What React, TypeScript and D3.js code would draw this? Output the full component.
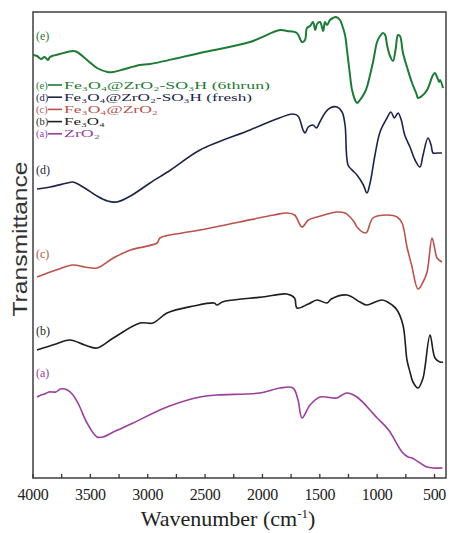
import React from "react";
import * as d3 from "d3";

// FT-IR spectra: wavenumber (cm-1) vs. transmittance (arbitrary, vertically offset units)
const spectrumE: [number, number][] = [
  [4000, 423], [3965, 422], [3930, 419], [3900, 421], [3870, 418], [3852, 421], [3765, 424], [3651, 427],
  [3616, 426], [3529, 418], [3442, 410], [3350, 406], [3303, 406], [3200, 409], [3068, 413],
  [2980, 414], [2544, 425], [2108, 436], [1847, 448], [1786, 447], [1700, 445], [1655, 436],
  [1629, 438], [1612, 450], [1585, 452], [1559, 456], [1540, 448], [1524, 454], [1498, 456],
  [1470, 447], [1455, 456], [1437, 453], [1411, 458], [1385, 460], [1359, 461], [1324, 458],
  [1306, 453], [1280, 443], [1263, 428], [1237, 403], [1219, 388], [1193, 378], [1176, 375],
  [1150, 378], [1106, 386], [1089, 391], [1036, 416], [1001, 436], [975, 442], [949, 445],
  [930, 443], [914, 433], [888, 422], [862, 417], [840, 428], [818, 443], [801, 442],
  [775, 425], [740, 411], [696, 395], [660, 385], [644, 380], [610, 382], [565, 388],
  [513, 403], [496, 405], [478, 401], [460, 396], [452, 398], [426, 390],
];

const spectrumD: [number, number][] = [
  [3965, 289], [3850, 291], [3700, 295], [3651, 296], [3550, 290], [3442, 282], [3350, 277],
  [3268, 276], [3150, 282], [2980, 295], [2800, 308], [2544, 328], [2108, 348], [1900, 358],
  [1734, 364], [1690, 362], [1646, 348], [1629, 345], [1600, 351], [1559, 353], [1530, 350],
  [1500, 356], [1455, 365], [1411, 370], [1350, 371], [1306, 366], [1280, 353], [1254, 313],
  [1219, 308], [1176, 303], [1120, 293], [1089, 285], [1060, 296], [1019, 323], [975, 346],
  [914, 360], [880, 366], [850, 360], [818, 365], [790, 358], [760, 343], [714, 331],
  [670, 318], [627, 311], [600, 323], [557, 340], [530, 333], [513, 325], [478, 325], [435, 325],
];

const spectrumC: [number, number][] = [
  [3965, 201], [3800, 208], [3651, 213], [3550, 211], [3442, 210], [3300, 220], [3150, 228],
  [2919, 235], [2893, 240], [2700, 245], [2544, 248], [2200, 256], [1900, 263], [1786, 265],
  [1720, 263], [1655, 251], [1600, 258], [1524, 261], [1350, 266], [1280, 265], [1237, 261],
  [1200, 256], [1176, 251], [1106, 245], [1089, 246], [1036, 260], [914, 263], [827, 261],
  [783, 255], [740, 231], [700, 213], [644, 189], [600, 196], [565, 206], [522, 240],
  [496, 228], [478, 220], [435, 216],
];

const spectrumB: [number, number][] = [
  [3965, 128], [3800, 134], [3677, 138], [3550, 133], [3442, 130], [3300, 140], [3067, 155],
  [2954, 155], [2832, 165], [2600, 172], [2420, 175], [2396, 173], [2350, 176], [2257, 178],
  [2000, 181], [1786, 184], [1720, 180], [1699, 170], [1600, 174], [1524, 178], [1437, 175],
  [1400, 179], [1263, 183], [1150, 176], [1089, 173], [958, 178], [870, 173], [827, 168],
  [775, 153], [740, 118], [714, 106], [688, 96], [644, 90], [600, 100], [583, 111],
  [539, 143], [496, 120], [452, 116], [426, 116],
];

const spectrumA: [number, number][] = [
  [3965, 81], [3930, 83], [3900, 84], [3860, 86], [3800, 86], [3760, 89], [3700, 88],
  [3651, 83], [3600, 73], [3529, 55], [3442, 41], [3390, 41], [3300, 46], [3128, 55],
  [2832, 71], [2544, 81], [2396, 83], [2021, 85], [1847, 90], [1734, 90], [1690, 78],
  [1655, 60], [1585, 73], [1498, 81], [1350, 80], [1306, 83], [1263, 85], [1176, 81],
  [1000, 60], [900, 48], [783, 26], [731, 21], [696, 20], [600, 13], [565, 11], [513, 10], [430, 10],
];

const seriesKeys = ["e", "d", "c", "b", "a"];
const seriesData = [spectrumE, spectrumD, spectrumC, spectrumB, spectrumA];
const seriesColors = ["#1f7a36", "#1c2448", "#b9534c", "#1e1e1e", "#9a3f9c"];
const seriesNames = [
  "Fe₃O₄@ZrO₂-SO₃H (6thrun)",
  "Fe₃O₄@ZrO₂-SO₃H (fresh)",
  "Fe₃O₄@ZrO₂",
  "Fe₃O₄",
  "ZrO₂",
];
// curve tag placed at the left edge, y in data units
const tagLevels = [438, 304, 220, 143, 101];
const xTickValues = [4000, 3500, 3000, 2500, 2000, 1500, 1000, 500];
const xMinorTicks = d3.range(4000, 399, -250);

const W = 449;
const H = 533;
const margin = { left: 33, right: 3, top: 12, bottom: 55 };
const serif = "'Liberation Serif', 'Times New Roman', serif";
const sans = "'Liberation Sans', Arial, sans-serif";
// legend label widths: the legend is set in a wide, stretched face
const legendWidths = [206, 188, 94, 41, 36];

export default function App() {
  const x = d3.scaleLinear().domain([4000, 400]).range([margin.left, W - margin.right]);
  const y = d3.scaleLinear().domain([0, 466]).range([H - margin.bottom, margin.top]);
  const line = d3
    .line<[number, number]>()
    .x((d) => x(d[0]))
    .y((d) => y(d[1]))
    .curve(d3.curveCatmullRom.alpha(0.5));

  const legendY0 = 85;
  const legendStep = 12.2;

  return (
    <svg width={W} height={H} style={{ position: "absolute", left: 0, top: 0, background: "#fff" }}>
      <defs>
        <clipPath id="plot">
          <rect x={margin.left} y={margin.top} width={W - margin.left - margin.right} height={H - margin.top - margin.bottom} />
        </clipPath>
      </defs>

      <g clipPath="url(#plot)" fill="none">
        {seriesData.map((s, i) => (
          <path key={seriesKeys[i]} d={line(s) ?? ""} stroke={seriesColors[i]} strokeWidth={i === 0 ? 2 : 1.6} strokeLinejoin="round" />
        ))}
      </g>

      {/* curve tags */}
      {seriesKeys.map((k, i) => (
        <text key={k} x={36} y={y(tagLevels[i])} fontFamily={serif} fontSize={12} fill={seriesColors[i]}>
          ({k})
        </text>
      ))}

      {/* legend */}
      {seriesKeys.map((k, i) => {
        const ly = legendY0 + i * legendStep;
        return (
          <g key={"lg" + k} fill={seriesColors[i]} fontFamily={serif} fontSize={10.5}>
            <text x={36} y={ly + 3.5}>({k})</text>
            <line x1={48} x2={62} y1={ly} y2={ly} stroke={seriesColors[i]} strokeWidth={1.6} />
            <text x={64} y={ly + 3.5} textLength={legendWidths[i]} lengthAdjust="spacingAndGlyphs">
              {seriesNames[i]}
            </text>
          </g>
        );
      })}

      {/* frame */}
      <rect
        x={margin.left}
        y={margin.top}
        width={W - margin.left - margin.right}
        height={H - margin.top - margin.bottom}
        fill="none"
        stroke="#4a4a4a"
        strokeWidth={1.6}
      />

      {/* bottom ticks, pointing inward */}
      {xMinorTicks.map((t) => (
        <line key={"t" + t} x1={x(t)} x2={x(t)} y1={H - margin.bottom} y2={H - margin.bottom - 4} stroke="#333" strokeWidth={1.3} />
      ))}
      {xTickValues.map((t) => (
        <text key={"l" + t} x={x(t)} y={500} textAnchor="middle" fontFamily={serif} fontSize={16} fill="#222" letterSpacing={-0.3}>
          {t}
        </text>
      ))}

      <text x={228} y={526} textAnchor="middle" fontFamily={serif} fontSize={22} fill="#222">
        Wavenumber (cm
        <tspan dy={-8} fontSize={13}>-1</tspan>
        <tspan dy={8}>)</tspan>
      </text>
      <text
        transform={`translate(27, ${239}) rotate(-90)`}
        textAnchor="middle"
        fontFamily={sans}
        fontSize={20}
        fill="#333"
        textLength={155}
        lengthAdjust="spacingAndGlyphs"
      >
        Transmittance
      </text>
    </svg>
  );
}
